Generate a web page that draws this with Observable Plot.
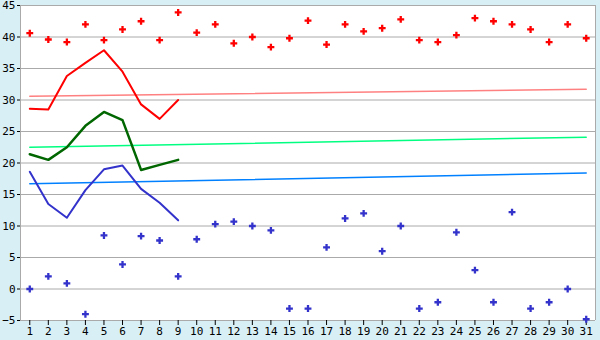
<!DOCTYPE html>
<html>
<head>
<meta charset="utf-8">
<script src="https://cdn.jsdelivr.net/npm/d3@7"></script>
<script src="https://cdn.jsdelivr.net/npm/@observablehq/plot@0.6"></script>
<style>
  html, body { margin: 0; padding: 0; background: #d9eff6; }
  #chart svg { display: block; }
</style>
</head>
<body>
<div id="chart"></div>
<script>
// Days of the month
const days = d3.range(1, 32);
// Line series for days 1..9
const lineDays = [1, 2, 3, 4, 5, 6, 7, 8, 9];
const maxLine = [28.6, 28.5, 33.8, 35.9, 37.9, 34.5, 29.3, 27.0, 30.0];
const avgLine = [21.4, 20.5, 22.5, 25.9, 28.1, 26.8, 18.9, 19.7, 20.5];
const minLine = [18.6, 13.5, 11.3, 15.7, 19.0, 19.6, 15.9, 13.7, 10.9];
// Scatter points for each day
const maxPoints = [40.6, 39.6, 39.2, 42.0, 39.5, 41.2, 42.5, 39.5, 43.9, 40.7,
                   42.0, 39.0, 40.0, 38.4, 39.8, 42.6, 38.8, 42.0, 40.9, 41.4,
                   42.8, 39.5, 39.2, 40.3, 43.0, 42.5, 42.0, 41.2, 39.2, 42.0, 39.8];
const minPoints = [0.0, 2.0, 0.9, -4.0, 8.5, 3.9, 8.4, 7.7, 2.0, 7.9,
                   10.3, 10.7, 10.0, 9.3, -3.1, -3.1, 6.6, 11.2, 12.0, 6.0,
                   10.0, -3.1, -2.1, 9.0, 3.0, -2.1, 12.2, -3.1, -2.1, 0.0, -4.8];
// Trend lines (values at day 1 and day 31)
const trendDays = [1, 31];
const trendMax = [30.6, 31.7];
const trendAvg = [22.5, 24.1];
const trendMin = [16.7, 18.4];
// Tick labels
const yTicks = d3.range(-5, 50, 5);
const xTicks = days;

const toPts = (xs, ys) => xs.map((x, i) => ({x, y: ys[i]}));

const plot = Plot.plot({
  width: 600,
  height: 340,
  marginLeft: 20,
  marginRight: 5,
  marginTop: 5,
  marginBottom: 20,
  style: {background: "#d9eff6", fontFamily: "'DejaVu Sans Mono', monospace", fontSize: "11px", color: "#000"},
  x: {domain: [0.5, 31.5], axis: null},
  y: {domain: [-5, 45], axis: null},
  marks: [
    Plot.frame({fill: "white", stroke: null}),
    Plot.gridY(yTicks, {stroke: "#aaaaaa", strokeOpacity: 1, strokeWidth: 1}),
    Plot.ruleX([0.5, 31.5], {stroke: "#aaaaaa", strokeWidth: 1}),
    Plot.axisY(yTicks, {tickSize: 3, tickPadding: 2, stroke: "#000", fontSize: 11, label: null}),
    Plot.axisX(xTicks, {tickSize: 5, tickPadding: 2, stroke: "#000", fontSize: 11, label: null}),
    Plot.line(toPts(trendDays, trendMax), {x: "x", y: "y", stroke: "#ff8080", strokeWidth: 1.5}),
    Plot.line(toPts(trendDays, trendAvg), {x: "x", y: "y", stroke: "#00ff80", strokeWidth: 1.5}),
    Plot.line(toPts(trendDays, trendMin), {x: "x", y: "y", stroke: "#0080ff", strokeWidth: 1.5}),
    Plot.line(toPts(lineDays, maxLine), {x: "x", y: "y", stroke: "#ff0000", strokeWidth: 2}),
    Plot.line(toPts(lineDays, avgLine), {x: "x", y: "y", stroke: "#006600", strokeWidth: 2.5}),
    Plot.line(toPts(lineDays, minLine), {x: "x", y: "y", stroke: "#3333cc", strokeWidth: 2}),
    Plot.dot(toPts(days, maxPoints), {x: "x", y: "y", symbol: "cross", r: 2.9, fill: "#ff0000", stroke: null}),
    Plot.dot(toPts(days, minPoints), {x: "x", y: "y", symbol: "cross", r: 2.9, fill: "#3333cc", stroke: null})
  ]
});
document.getElementById("chart").appendChild(plot);
</script>
</body>
</html>
